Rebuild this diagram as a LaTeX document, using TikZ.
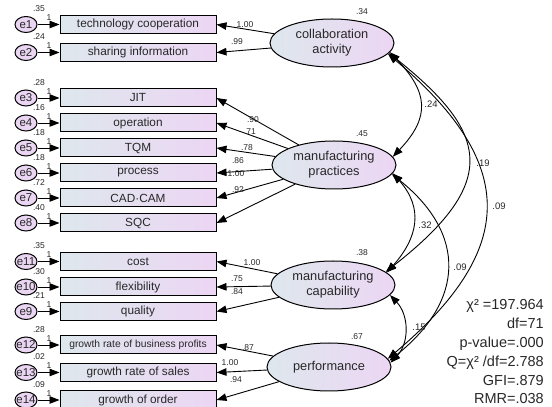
\documentclass[tikz,border=0pt]{standalone}
\usepackage{fontspec}
\setmainfont{Liberation Sans}
\usetikzlibrary{shapes.geometric,arrows.meta}
\definecolor{boxleft}{RGB}{222,231,237}
\definecolor{boxright}{RGB}{236,214,244}
\definecolor{errfill}{RGB}{234,214,243}
\definecolor{txt}{RGB}{40,40,40}
\newcommand{\errtxt}[1]{\makebox[0pt]{#1}}

\begin{document}
\begin{tikzpicture}[x=1pt,y=1pt,
    every node/.style={text=txt},
    obs/.style={draw,line width=1pt,rectangle,minimum width=156pt,minimum height=18pt,inner sep=0pt,
      left color=boxleft,right color=boxright,font=\fontsize{11.8}{13}\selectfont},
    err/.style={draw,line width=1pt,ellipse,minimum width=22pt,minimum height=16pt,inner sep=0pt,
      fill=errfill,font=\fontsize{11.5}{12}\selectfont},
    lat/.style={draw,line width=1pt,ellipse,minimum width=124pt,minimum height=48pt,inner sep=0pt,
      left color=boxleft,right color=boxright,align=center,font=\fontsize{12.8}{15}\selectfont},
    num/.style={font=\fontsize{8.5}{9}\selectfont,inner sep=0pt},
    cov/.style={font=\fontsize{9.5}{10}\selectfont,inner sep=0pt},
    arr/.style={line width=0.9pt,-{Triangle[length=10pt,width=7.5pt]}},
    dbl/.style={line width=0.9pt,{Triangle[length=10pt,width=7.5pt]}-{Triangle[length=10pt,width=7.5pt]}}]
  \useasboundingbox (0,0) rectangle (552,407);
  % latent factors
  \node[lat] (CA) at (332,364) {collaboration\\activity};
  \node[lat] (MP) at (334,242) {manufacturing\\practices};
  \node[lat] (MC) at (333,122) {manufacturing\\capability};
  \node[lat] (PF) at (329,40) {performance};
  \node[num] (vCA) at (362,395) {.34};
  \node[num] (vMP) at (362,273) {.45};
  \node[num] (vMC) at (362,154) {.38};
  \node[num] (vPF) at (357,70) {.67};
  % observed variables
  \node[obs] (b1) at (138,382.5) {technology cooperation};
  \node[obs] (b2) at (138,354.5) {sharing information};
  \node[obs] (b3) at (138,309) {JIT};
  \node[obs] (b4) at (138,284) {operation};
  \node[obs] (b5) at (138,259) {TQM};
  \node[obs] (b6) at (138,234) {process};
  \node[obs] (b7) at (138,209) {CAD·CAM};
  \node[obs] (b8) at (138,184) {SQC};
  \node[obs] (b9) at (138,145.5) {cost};
  \node[obs] (b10) at (138,120) {flexibility};
  \node[obs] (b11) at (138,95.5) {quality};
  \node[obs,font=\fontsize{10.3}{12}\selectfont] (b12) at (138,62) {growth rate of business profits};
  \node[obs] (b13) at (138,34.5) {growth rate of sales};
  \node[obs] (b14) at (138,7) {growth of order};
  % error terms
  \node[err] (e1) at (26,382.5) {\errtxt{e1}};
  \node[err] (e2) at (26,354.5) {\errtxt{e2}};
  \node[err] (e3) at (26,309) {\errtxt{e3}};
  \node[err] (e4) at (26,284) {\errtxt{e4}};
  \node[err] (e5) at (26,259) {\errtxt{e5}};
  \node[err] (e6) at (26,234) {\errtxt{e6}};
  \node[err] (e7) at (26,209) {\errtxt{e7}};
  \node[err] (e8) at (26,184) {\errtxt{e8}};
  \node[err] (e11) at (26,145.5) {\errtxt{e11}};
  \node[err] (e10) at (26,120) {\errtxt{e10}};
  \node[err] (e9) at (26,95.5) {\errtxt{e9}};
  \node[err] (e12) at (26,62) {\errtxt{e12}};
  \node[err] (e13) at (26,34.5) {\errtxt{e13}};
  \node[err] (e14) at (26,7) {\errtxt{e14}};
  % error -> indicator, fixed at 1
  \draw[arr] (e1) -- (b1);   \draw[arr] (e2) -- (b2);
  \draw[arr] (e3) -- (b3);   \draw[arr] (e4) -- (b4);
  \draw[arr] (e5) -- (b5);   \draw[arr] (e6) -- (b6);
  \draw[arr] (e7) -- (b7);   \draw[arr] (e8) -- (b8);
  \draw[arr] (e11) -- (b9);  \draw[arr] (e10) -- (b10);
  \draw[arr] (e9) -- (b11);  \draw[arr] (e12) -- (b12);
  \draw[arr] (e13) -- (b13); \draw[arr] (e14) -- (b14);
  \node[num] (w1) at (49,389) {1};   \node[num] (w2) at (49,361) {1};
  \node[num] (w3) at (49,315.5) {1}; \node[num] (w4) at (49,290.5) {1};
  \node[num] (w5) at (49,265.5) {1}; \node[num] (w6) at (49,240.5) {1};
  \node[num] (w7) at (49,215.5) {1}; \node[num] (w8) at (49,190.5) {1};
  \node[num] (w9) at (49,152) {1};   \node[num] (w10) at (49,126.5) {1};
  \node[num] (w11) at (49,102) {1};  \node[num] (w12) at (49,68.5) {1};
  \node[num] (w13) at (49,41) {1};   \node[num] (w14) at (49,13.5) {1};
  % error variances
  \node[num] (s1) at (39,398) {.35};  \node[num] (s2) at (39,370) {.24};
  \node[num] (s3) at (39,324.5) {.28}; \node[num] (s4) at (39,299.5) {.16};
  \node[num] (s5) at (39,274.5) {.18}; \node[num] (s6) at (39,249.5) {.18};
  \node[num] (s7) at (39,224.5) {.72}; \node[num] (s8) at (39,199.5) {.40};
  \node[num] (s11) at (39,161) {.35};  \node[num] (s10) at (39,135.5) {.30};
  \node[num] (s9) at (39,111) {.21};   \node[num] (s12) at (39,77.5) {.28};
  \node[num] (s13) at (39,50) {.02};   \node[num] (s14) at (39,22.5) {.09};
  % factor loadings
  \draw[arr] (CA) -- (b1.east);  \draw[arr] (CA) -- (b2.east);
  \draw[arr] (MP) -- (b3.east);  \draw[arr] (MP) -- (b4.east);
  \draw[arr] (MP) -- (b5.east);  \draw[arr] (MP) -- (b6.east);
  \draw[arr] (MP) -- (b7.east);  \draw[arr] (MP) -- (b8.east);
  \draw[arr] (MC) -- (b9.east);  \draw[arr] (MC) -- (b10.east);
  \draw[arr] (MC) -- (b11.east); \draw[arr] (PF) -- (b12.east);
  \draw[arr] (PF) -- (b13.east); \draw[arr] (PF) -- (b14.east);
  \node[num] (l1) at (245,382) {1.00}; \node[num] (l2) at (237,365) {.99};
  \node[num] (l3) at (253,287) {.90};  \node[num] (l4) at (250,275) {.71};
  \node[num] (l5) at (247,259) {.78};  \node[num] (l6) at (238,246) {.86};
  \node[num] (l7) at (236,233) {1.00}; \node[num] (l8) at (238,217) {.92};
  \node[num] (l9) at (252,144) {1.00}; \node[num] (l10) at (237,128) {.75};
  \node[num] (l11) at (237,115) {.84}; \node[num] (l12) at (248,59) {.87};
  \node[num] (l13) at (230,44) {1.00}; \node[num] (l14) at (236,27) {.94};
  % covariances between factors
  \draw[dbl] (CA.-9) .. controls +(38,-40) and +(38,40) .. (MP.8);
  \draw[dbl] (CA.-10) .. controls +(100,-80) and +(115,90) .. (MC.14);
  \draw[dbl] (CA.-11) .. controls +(130,-110) and +(130,110) .. (PF.8);
  \draw[dbl] (MP.-8) .. controls +(31,-35) and +(31,35) .. (MC.13);
  \draw[dbl] (MP.-9) .. controls +(75,-60) and +(75,60) .. (PF.6);
  \draw[dbl] (MC.-10) .. controls +(19,-20) and +(19,20) .. (PF.4);
  \node[cov] (c1) at (431,303) {.24};
  \node[cov] (c2) at (483,244) {.19};
  \node[cov] (c3) at (499,201) {.09};
  \node[cov] (c4) at (425,182) {.32};
  \node[cov] (c5) at (460,140) {.09};
  \node[cov] (c6) at (419,80) {.15};
  % fit indices
  \node[anchor=north east,align=right,inner sep=0pt,font=\fontsize{14.5}{18.8}\selectfont] (fit) at (544,107.5)
    {χ² =197.964\\df=71\\p-value=.000\\Q=χ² /df=2.788\\GFI=.879\\RMR=.038};
\end{tikzpicture}
\end{document}
